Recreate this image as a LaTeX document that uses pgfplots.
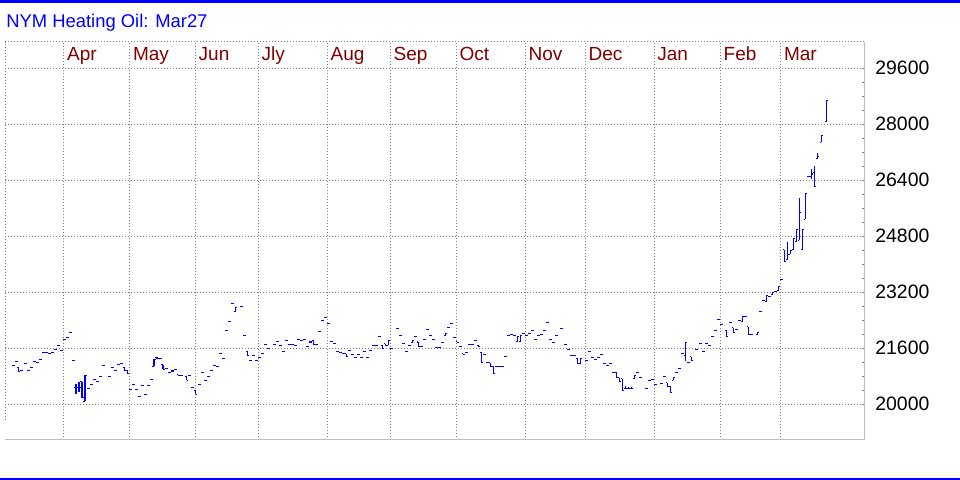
\documentclass[border=0pt]{standalone}
\usepackage{fontspec}
\setmainfont{Liberation Sans}
\usepackage{pgfplots}
\pgfplotsset{compat=1.18}
\usepackage{pgfplotstable}
\definecolor{gridgray}{RGB}{128,128,128}
\definecolor{framegray}{RGB}{192,192,192}
\definecolor{monthred}{RGB}{128,0,0}
\definecolor{barblue}{RGB}{0,0,255}

% daily bars: position, open, high, low, close
\pgfplotstableread{
x o h l c
13.3 21110 21110 21110 21110
16.3 21220 21220 21220 21220
18.8 21050 21050 20930 20930
21.7 20960 20960 20960 20960
25.2 21160 21160 21160 21160
28.3 20960 20960 20960 20960
31.3 21050 21050 21050 21050
34.3 21220 21220 21220 21220
37.3 21190 21190 21190 21190
40.3 21280 21280 21280 21280
43.3 21480 21480 21480 21480
46.3 21480 21480 21480 21480
49.3 21450 21450 21450 21450
52.3 21480 21480 21480 21480
55.3 21560 21560 21560 21560
58.3 21680 21680 21680 21680
61.3 21530 21530 21530 21530
64.3 21850 21850 21850 21850
67.3 21910 21910 21910 21910
70.3 22050 22050 22050 22050
73.3 21250 21250 21250 21250
76.0 20480 20590 20290 20480
79.0 20480 20650 20360 20480
82.0 20650 20650 20190 20190
85.0 20090 20830 20090 20830
88.3 20450 20450 20450 20450
91.5 20570 20570 20570 20570
94.3 20710 20710 20710 20710
97.3 20650 20650 20650 20650
100.3 20790 20790 20790 20790
103.3 21110 21110 21110 21110
109.3 20790 20790 20790 20790
112.3 21050 21050 21050 21050
115.3 20960 20960 20960 20960
118.3 21130 21130 21130 21130
121.3 21160 21160 21160 21160
124.3 21060 21060 20970 20970
127.3 20970 20970 20880 20880
130.3 20420 20420 20420 20420
133.3 20560 20560 20560 20560
136.3 20420 20420 20420 20420
139.3 20220 20220 20220 20220
142.3 20530 20530 20530 20530
145.5 20290 20290 20290 20290
148.5 20540 20540 20540 20540
151.3 20710 20710 20710 20710
154.0 21090 21280 21090 21280
157.0 21340 21340 21300 21300
160.3 21310 21310 21310 21310
163.0 21130 21130 21000 21000
166.3 21020 21020 21020 21020
169.3 20910 20910 20910 20910
172.3 20950 20950 20950 20950
175.3 20990 20990 20990 20990
178.3 20850 20850 20820 20820
181.3 20830 20830 20830 20830
186.7 20800 20800 20690 20690
189.7 20810 20810 20810 20810
192.5 20480 20480 20480 20480
195.5 20400 20400 20280 20280
199.3 20560 20560 20560 20560
202.3 20910 20910 20910 20910
205.3 20680 20680 20680 20680
208.3 20790 20790 20790 20790
211.3 20960 20960 20960 20960
214.3 21110 21110 21110 21110
217.3 21080 21080 21080 21080
220.3 21450 21450 21450 21450
223.3 21310 21310 21310 21310
226.3 22110 22110 22110 22110
229.3 22370 22370 22370 22370
232.3 22880 22880 22880 22880
235.3 22640 22760 22640 22760
241.3 22790 22790 22790 22790
244.3 21960 21960 21960 21960
247.3 21510 21510 21390 21390
250.3 21250 21250 21250 21250
253.3 21390 21390 21390 21390
256.3 21250 21250 21250 21250
259.3 21340 21340 21340 21340
262.3 21450 21450 21450 21450
265.3 21710 21710 21710 21710
268.3 21600 21600 21600 21600
274.3 21710 21710 21710 21710
277.3 21790 21790 21790 21790
280.3 21680 21680 21680 21680
283.5 21510 21510 21510 21510
286.5 21820 21820 21820 21820
289.3 21710 21710 21710 21710
292.3 21710 21710 21710 21710
295.3 21670 21670 21670 21670
298.3 21850 21850 21850 21850
301.3 21810 21810 21810 21810
304.3 21850 21850 21850 21850
307.3 21650 21650 21650 21650
310.3 21780 21780 21780 21780
313.3 21830 21830 21710 21710
316.3 21710 21710 21710 21710
319.3 22080 22080 22080 22080
322.3 22390 22390 22390 22390
325.3 22480 22480 22480 22480
328.3 22310 22310 22310 22310
331.3 21790 21790 21790 21790
334.3 21730 21730 21730 21730
337.3 21510 21510 21510 21510
340.3 21480 21480 21480 21480
343.3 21450 21450 21450 21450
346.3 21450 21450 21360 21360
349.3 21530 21530 21530 21530
352.3 21420 21420 21420 21420
355.3 21330 21330 21330 21330
358.3 21420 21420 21420 21420
361.3 21330 21330 21330 21330
364.3 21510 21510 21510 21510
367.3 21330 21330 21330 21330
370.3 21530 21530 21530 21530
373.3 21680 21680 21680 21680
376.3 21680 21680 21680 21680
379.3 21930 21930 21930 21930
382.3 21680 21680 21590 21590
385.3 21730 21730 21680 21680
388.3 21680 21810 21680 21810
391.3 21590 21590 21590 21590
397.3 22160 22160 22160 22160
400.3 21960 21960 21960 21960
403.3 21730 21730 21730 21730
406.3 21510 21510 21510 21510
409.3 21680 21680 21680 21680
412.3 21760 21810 21760 21810
415.3 21930 21930 21930 21930
418.3 21780 21780 21640 21640
421.3 21650 21650 21650 21650
424.3 21850 21850 21850 21850
427.3 22130 22130 22130 22130
430.3 21960 21960 21960 21960
433.3 21850 21850 21850 21850
436.3 21620 21620 21620 21620
439.3 21620 21620 21620 21620
442.3 21760 21760 21760 21760
445.3 21960 22010 21960 22010
448.3 22190 22190 22190 22190
451.3 22310 22310 22310 22310
454.3 21910 21910 21910 21910
457.3 21790 21790 21760 21760
460.3 21650 21650 21650 21650
463.3 21450 21450 21420 21420
466.3 21480 21480 21480 21480
469.3 21710 21710 21710 21710
472.3 21710 21710 21710 21710
475.3 21820 21820 21820 21820
478.3 21680 21680 21650 21650
481.3 21480 21480 21190 21190
484.3 21420 21420 21420 21420
487.3 21190 21190 21190 21190
490.3 21190 21190 21080 21080
493.3 21080 21080 20880 20880
496.3 21080 21080 21080 21080
499.3 21080 21080 21080 21080
502.3 21080 21080 21080 21080
505.3 21360 21360 21360 21360
508.3 21960 21960 21960 21960
511.3 21990 21990 21990 21990
514.3 21960 21960 21960 21960
517.3 21790 21930 21790 21930
520.3 21790 21960 21790 21960
523.3 22020 22020 22020 22020
526.3 21960 21960 21960 21960
529.3 22020 22020 22020 22020
532.3 22110 22110 22110 22110
535.3 21850 21850 21850 21850
538.3 21960 21960 21960 21960
541.3 21990 21990 21990 21990
544.3 22110 22110 22110 22110
547.3 22330 22330 22330 22330
550.3 21850 21850 21850 21850
553.3 21760 21760 21760 21760
556.3 21960 21960 21960 21960
561.7 22160 22160 22160 22160
565.3 21710 21710 21710 21710
568.3 21560 21560 21560 21560
571.3 21390 21390 21390 21390
574.3 21390 21390 21390 21390
577.3 21310 21310 21160 21160
580.3 21160 21310 21160 21310
586.3 21250 21250 21250 21250
589.3 21510 21510 21510 21510
592.3 21330 21330 21330 21330
595.3 21280 21280 21280 21280
598.3 21330 21330 21330 21330
601.3 21420 21420 21420 21420
604.3 21160 21160 21160 21160
607.3 21110 21110 21110 21110
610.3 21160 21160 21160 21160
613.3 20910 20910 20910 20910
616.3 20910 20910 20760 20760
619.3 20760 20760 20660 20660
622.3 20730 20730 20390 20390
625.3 20440 20530 20440 20440
628.3 20440 20480 20440 20440
631.3 20440 20480 20440 20440
634.3 20730 20820 20730 20820
637.3 20910 20910 20910 20910
640.3 20760 20760 20760 20760
646.3 20450 20450 20450 20450
649.3 20680 20680 20680 20680
652.3 20710 20710 20710 20710
655.3 20560 20560 20560 20560
661.3 20590 20590 20590 20590
664.3 20790 20790 20790 20790
667.3 20620 20620 20510 20510
670.3 20510 20510 20330 20330
673.3 20680 20760 20680 20760
676.3 20910 20910 20910 20910
679.3 21020 21020 21020 21020
682.3 21450 21450 21450 21450
685.3 21400 21760 21250 21760
688.3 21190 21190 21190 21190
691.3 21360 21360 21250 21250
696.3 21560 21560 21560 21560
700.3 21730 21730 21730 21730
703.3 21510 21510 21510 21510
706.3 21730 21730 21730 21730
709.3 21680 21680 21680 21680
712.3 21930 21930 21930 21930
715.3 22110 22110 22110 22110
718.3 22420 22420 22420 22420
721.3 22280 22280 22280 22280
726.7 22110 22110 21930 21930
730.3 22330 22330 22330 22330
733.3 22190 22190 22050 22050
736.3 22130 22130 22130 22130
739.3 22390 22390 22390 22390
742.3 22360 22510 22360 22510
745.3 22510 22510 22510 22510
748.3 22220 22220 21990 21990
751.3 21990 21990 21990 21990
757.3 21990 22050 21990 22050
760.3 22650 22650 22650 22650
763.3 22970 22970 22970 22970
766.3 22930 23110 22930 23110
769.3 23080 23080 23080 23080
772.3 23130 23190 23130 23190
775.3 23220 23220 23220 23220
778.3 23250 23360 23250 23360
781.3 23560 23560 23560 23560
784.3 24420 24420 24080 24080
787.3 24130 24650 24130 24290
790.3 24290 24390 24290 24390
793.3 24420 24730 24420 24730
796.3 24650 24990 24650 24990
799.3 24680 25880 24680 25480
802.3 24420 24990 24420 24990
805.3 25280 26020 25280 26020
808.3 26520 26520 26520 26520
811.3 26520 26720 26440 26580
814.3 26620 26820 26210 26210
817.3 27020 27190 27020 27080
821.3 27480 27680 27480 27680
826.3 28070 28680 28070 28680
}\bars

\pgfplotsset{ohlc/.style={color=barblue, only marks, mark=*, mark size=0pt,
  mark options={draw=none, fill=none},
  error bars/.cd, error mark=none,
  error bar style={draw=barblue, line width=0.55pt}}}

\begin{document}
\begin{tikzpicture}
\useasboundingbox (0,0) rectangle (480pt,240pt);
\fill[blue] (0,238.7pt) rectangle (480pt,240pt);
\fill[blue] (0,0) rectangle (480pt,1.2pt);
\node[anchor=base west, inner sep=0pt, text=blue, font=\fontsize{9.2pt}{10pt}\selectfont]
  at (3pt,226pt) {NYM Heating Oil: Mar27};
\begin{axis}[
  at={(2.5pt,20pt)}, anchor=south west,
  scale only axis, width=430pt, height=199pt,
  xmin=5, xmax=865, ymin=18980, ymax=30351,
  axis line style={draw=none},
  xtick={63.7,129.7,195.3,258.3,327.3,390.3,456.3,525.3,585.3,654,720.3,780.7},
  xticklabels={Apr,May,Jun,Jly,Aug,Sep,Oct,Nov,Dec,Jan,Feb,Mar},
  xticklabel pos=upper,
  x tick style={draw=none},
  xticklabel style={anchor=north west, inner sep=0pt, xshift=1.5pt, yshift=-2.3pt,
    text=monthred, font=\fontsize{9.5pt}{10pt}\selectfont},
  scaled y ticks=false,
  ytick={20000,21600,23200,24800,26400,28000,29600},
  yticklabels={20000,21600,23200,24800,26400,28000,29600},
  ytick pos=right, yticklabel pos=right,
  minor y tick num=3,
  tick align=inside,
  major tick length=1.7pt, minor tick length=1.7pt,
  y tick style={gridgray, line width=0.5pt},
  yticklabel style={anchor=west, inner sep=0pt, xshift=5pt,
    font=\fontsize{9.7pt}{10pt}\selectfont},
  grid=major,
  grid style={gridgray, line width=0.5pt, dash pattern=on 0.5pt off 1pt},
]
\draw[framegray, line width=0.6pt] (rel axis cs:0,0) -- (rel axis cs:1,0) -- (rel axis cs:1,1);
\draw[gridgray, line width=0.5pt, dash pattern=on 0.5pt off 1pt]
  (rel axis cs:0,0.05) -- (rel axis cs:0,1) -- (rel axis cs:1,1);
% high-low lines
\addplot[ohlc, y dir=plus, y explicit]
  table[x=x, y=l, y error plus expr=\thisrow{h}-\thisrow{l}] {\bars};
% open ticks
\addplot[ohlc, x dir=minus, x fixed=1.6] table[x=x, y=o] {\bars};
% close ticks
\addplot[ohlc, x dir=plus, x fixed=1.6] table[x=x, y=c] {\bars};
\end{axis}
\end{tikzpicture}
\end{document}
